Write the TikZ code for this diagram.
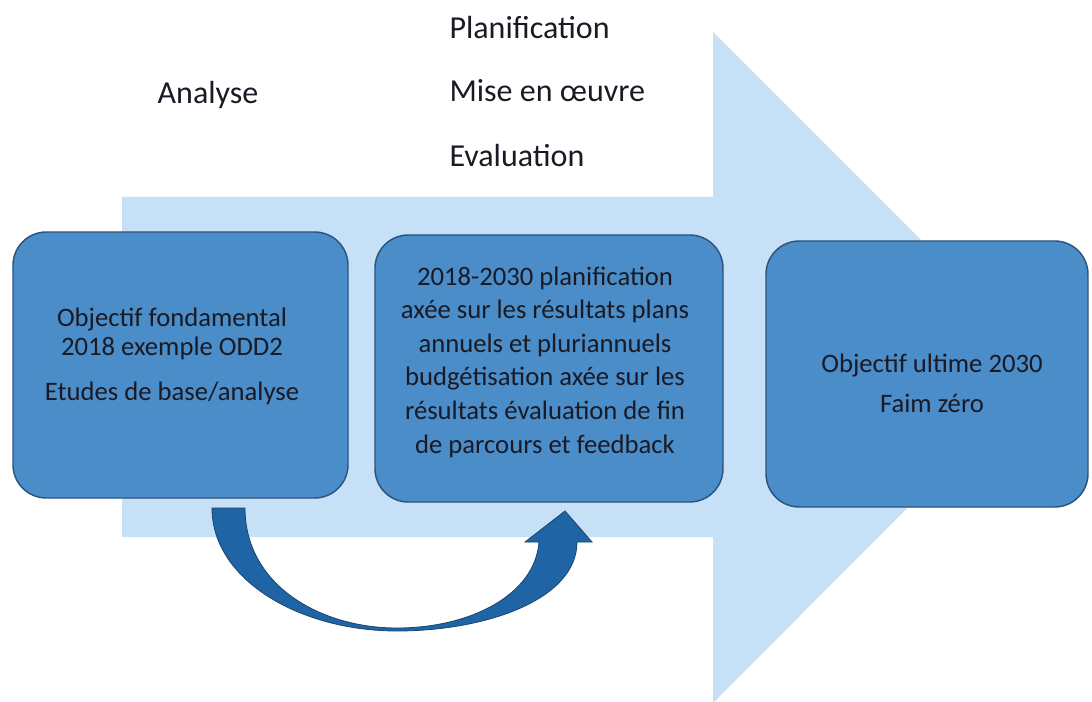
\documentclass[tikz,border=0pt]{standalone}
\usepackage{fontspec}
\setmainfont{Carlito}
\definecolor{arrowbg}{RGB}{198,224,248}
\definecolor{boxfill}{RGB}{74,141,201}
\definecolor{boxline}{RGB}{44,84,124}
\definecolor{loopfill}{RGB}{31,101,166}
\definecolor{loopline}{RGB}{28,68,108}
\definecolor{inktext}{RGB}{26,26,36}
\tikzset{every picture/.style={line width=0.75pt}}
\tikzset{
  stagebox/.style={draw=boxline, fill=boxfill, rounded corners=25pt, line width=1.1pt, inner sep=0pt},
  stagetext/.style={inner sep=0pt, align=center, text=inktext, font=\fontsize{20}{25.2}\selectfont},
  steplabel/.style={anchor=base west, inner sep=0pt, text=inktext, font=\fontsize{24}{28}\selectfont}
}

\begin{document}
\begin{tikzpicture}[x=0.75pt,y=0.75pt,yscale=-1,xscale=1]
\useasboundingbox (0,0) rectangle (1092,702);
%Shape: Right Arrow [id:bigarrow]
\fill[arrowbg] (122,197) -- (713,197) -- (713,32) -- (1048,367) -- (713,703) -- (713,537) -- (122,537) -- cycle ;
%Rounded Rect [id:base]
\node[stagebox, minimum width=251.25pt, minimum height=199.5pt] (base) at (180.5,365) {};
%Rounded Rect [id:plans]
\node[stagebox, minimum width=261pt, minimum height=200.25pt] (plans) at (549,368.5) {};
%Rounded Rect [id:goal]
\node[stagebox, minimum width=241.5pt, minimum height=199.5pt] (goal) at (927,374) {};
%Curve Arrow [id:loop]
\draw[draw=loopline, fill=loopfill, line width=0.6pt] (212,508) .. controls (212,580) and (300,631) .. (397,631) .. controls (485,631) and (577,600) .. (577,542) -- (592,542) -- (565,511) -- (525,542) -- (539,542) .. controls (535,595) and (470,628) .. (397,628) .. controls (320,628) and (245,585) .. (245,508) -- cycle ;
% Text Node
\node[stagetext, font=\fontsize{20}{21.75}\selectfont] (basetext) at (172,356) {Objectif fondamental\\2018 exemple ODD2\\[12pt]Etudes de base/analyse};
% Text Node
\node[stagetext] (planstext) at (545,362) {2018-2030 planification\\axée sur les résultats plans\\annuels et pluriannuels\\budgétisation axée sur les\\résultats évaluation de fin\\de parcours et feedback};
% Text Node
\node[stagetext, font=\fontsize{20}{30}\selectfont] (goaltext) at (932,383.5) {Objectif ultime 2030\\Faim zéro};
% Text Node
\node[steplabel, anchor=base] (analyse) at (208,103.3) {Analyse};
% Text Node
\node[steplabel] (plan) at (449,38.3) {Planification};
% Text Node
\node[steplabel] (mise) at (449,101.7) {Mise en œuvre};
% Text Node
\node[steplabel] (eval) at (449,166.7) {Evaluation};
\end{tikzpicture}
\end{document}
